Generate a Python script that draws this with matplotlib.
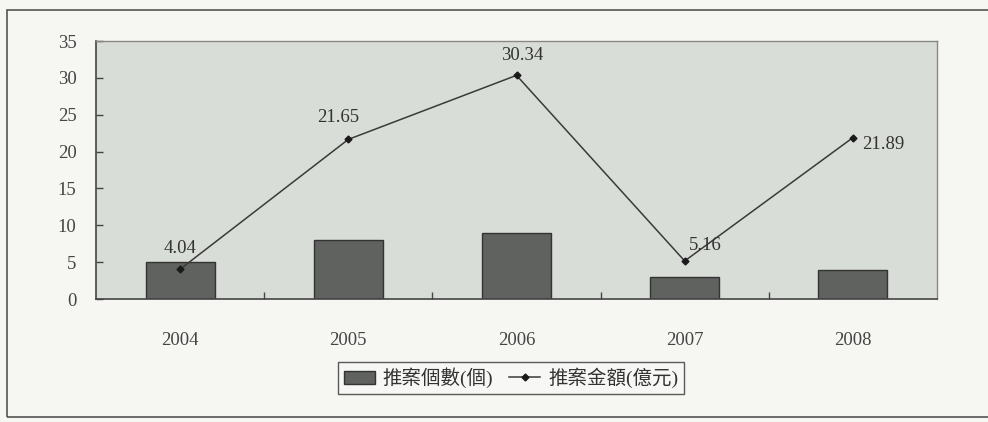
import numpy as np
import matplotlib.pyplot as plt
from matplotlib.patches import Rectangle
from matplotlib.lines import Line2D

# --- data ---
years = ['2004', '2005', '2006', '2007', '2008']
case_count = [5, 8, 9, 3, 4]                       # 推案個數(個)
case_amount = [4.04, 21.65, 30.34, 5.16, 21.89]    # 推案金額(億元)
y_ticks = [0, 5, 10, 15, 20, 25, 30, 35]

# label offsets (points) for the amount annotations
label_offsets = [(0, 15), (-7, 16), (4, 14), (15, 11), (22, -5)]

serif = ['Liberation Serif', 'DejaVu Serif']
mixed = ['Liberation Serif', 'Noto Sans CJK TC']

fig = plt.figure(figsize=(9.88, 4.22), dpi=100)
fig.patch.set_facecolor('#f6f6f3')

# outer frame
fig.patches.append(Rectangle((7 / 988, 1 - 417 / 422), 1.0, (417 - 10) / 422,
                             transform=fig.transFigure, fill=False,
                             edgecolor='#555555', linewidth=1.2))

ax = fig.add_axes([96 / 988, 1 - 299 / 422, (937 - 96) / 988, (299 - 41) / 422])
ax.set_facecolor('#d9ddd7')

x = np.arange(len(years))
ax.bar(x, case_count, width=0.41, color='#5f625f', edgecolor='#333333',
       linewidth=1.0, zorder=2)
ax.plot(x, case_amount, color='#3a3a3a', linewidth=1.1, marker='D',
        markersize=3.5, markerfacecolor='#1a1a1a', markeredgecolor='#1a1a1a',
        zorder=3)

for xi, v, off in zip(x, case_amount, label_offsets):
    ax.annotate(f'{v:.2f}', (xi, v), xytext=off, textcoords='offset points',
                ha='center', va='center', fontsize=13.5, family=serif,
                color='#333333', zorder=4)

ax.set_xlim(-0.5, len(years) - 0.5)
ax.set_ylim(0, 35)
ax.set_yticks(y_ticks)
ax.set_yticklabels([str(t) for t in y_ticks], family=serif, fontsize=13.5,
                   color='#444444')
ax.set_xticks(x)
ax.set_xticklabels(years, family=serif, fontsize=13.5, color='#444444')
ax.set_xticks(x[:-1] + 0.5, minor=True)

ax.tick_params(axis='y', direction='in', length=5, width=1, pad=14,
               color='#444444')
ax.tick_params(axis='x', which='major', length=0, pad=24)
ax.tick_params(axis='x', which='minor', direction='in', length=5, width=1,
               color='#444444')

for side in ['left', 'bottom']:
    ax.spines[side].set_color('#444444')
    ax.spines[side].set_linewidth(1.2)
for side in ['top', 'right']:
    ax.spines[side].set_color('#888888')
    ax.spines[side].set_linewidth(1.0)

# legend
handles = [Rectangle((0, 0), 1, 1, facecolor='#5f625f', edgecolor='#333333'),
           Line2D([], [], color='#3a3a3a', linewidth=1.1, marker='D',
                  markersize=3.5, markerfacecolor='#1a1a1a',
                  markeredgecolor='#1a1a1a')]
leg = fig.legend(handles, ['推案個數(個)', '推案金額(億元)'], ncol=2,
                 loc='center', bbox_to_anchor=(511 / 988, 1 - 378 / 422),
                 frameon=True, fancybox=False, shadow=False,
                 prop={'family': mixed, 'size': 14}, handlelength=1.6,
                 handletextpad=0.4, columnspacing=0.8, borderpad=0.3,
                 borderaxespad=0)
leg.get_frame().set_edgecolor('#333333')
leg.get_frame().set_linewidth(1.0)
leg.get_frame().set_facecolor('#f8f8f6')
for t in leg.get_texts():
    t.set_color('#333333')

fig.savefig('out.png', dpi=100, facecolor=fig.get_facecolor())
